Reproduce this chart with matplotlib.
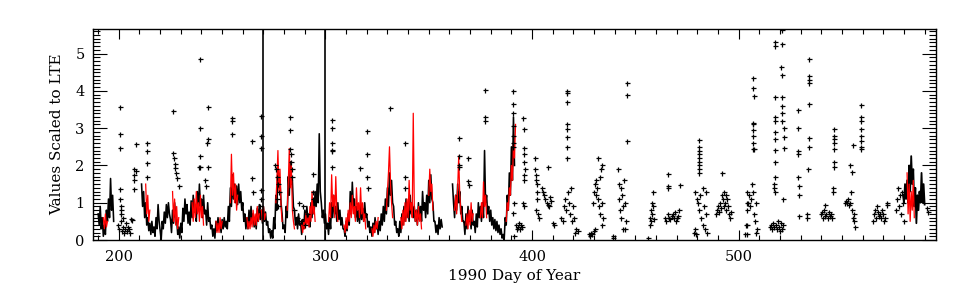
import numpy as np
import matplotlib
matplotlib.use("Agg")
import matplotlib.pyplot as plt
from matplotlib.ticker import MultipleLocator

# ---------------- data ----------------
# black line, half-day sampling starting at day 190 (NaN = gap)
line_start = 190.0
line_vals = [
    0.7, 0.4, 0.9, 0.3, 0.6, 0.1, 0.4, 0.15, 0.8, 0.5,          # 190-194
    1.1, 0.6, 1.65, 0.8, 1.2, 0.5,                               # 195-197
    np.nan, np.nan, np.nan, np.nan, np.nan, np.nan, np.nan, np.nan, np.nan, np.nan,
    np.nan, np.nan, np.nan, np.nan, np.nan, np.nan, np.nan, np.nan, np.nan, np.nan,
    np.nan, np.nan, np.nan, np.nan, np.nan, np.nan,              # 198-210.5
    1.5, 0.9, 1.3, 0.6, 1.0, 0.4, 0.6, 0.25, 0.45, 0.15,         # 211-215
    0.5, 0.2, 0.35, 0.1, 0.6, 0.3, 0.95, 0.5, 0.25, 0.0,         # 216-220
    0.5, 0.3, 0.75, 0.45, 0.95, 0.6, 1.0, 0.7, 0.55, 0.2,        # 221-225
    0.8, 0.45, 1.0, 0.6, 0.55, 0.15, 0.35, 0.05, 0.45, 0.2,      # 226-230
    0.85, 0.5, 1.1, 0.7, 0.95, 0.45, 0.75, 0.4, 1.05, 0.6,       # 231-235
    1.2, 0.75, 0.9, 0.5, 1.3, 0.8, 1.5, 0.9, 1.1, 0.6,           # 236-240
    1.2, 0.7, 0.8, 0.4, 1.0, 0.5, 0.6, 0.3, 0.4, 0.1,            # 241-245
    0.3, 0.05, 0.5, 0.25, 0.6, 0.35, 0.45, 0.2, 0.55, 0.3,       # 246-250
    0.6, 0.35, 0.5, 0.3, 0.9, 0.5, 1.4, 0.9, 1.75, 1.1,          # 251-255
    1.5, 1.0, 1.45, 0.95, 1.5, 1.0, 1.3, 0.8, 1.0, 0.5,          # 256-260
    0.7, 0.3, 0.6, 0.3, 0.8, 0.45, 0.9, 0.5, 0.7, 0.35,          # 261-265
    0.6, 0.3, 0.85, 0.5, 0.95, 0.55, 0.8, 0.45, 0.9, 0.5,        # 266-270
    0.75, 0.4, 0.5, 0.2, 0.3, 0.05, 0.25, 0.05, 0.6, 0.3,        # 271-275
    1.2, 0.8, 2.0, 1.4, 1.6, 1.0, 0.7, 0.3, 0.4, 0.2,            # 276-280
    0.9, 0.6, 1.7, 1.2, 2.1, 1.5, 1.6, 0.9, 0.8, 0.4,            # 281-285
    0.6, 0.3, 0.7, 0.4, 0.45, 0.15, 0.55, 0.3, 0.8, 0.45,        # 286-290
    0.9, 0.5, 0.7, 0.35, 1.0, 0.6, 1.1, 0.7, 1.3, 0.9,           # 291-295
    1.5, 1.0, 2.85, 1.3, 1.0, 0.6, 0.8, 0.45, 0.7, 0.3,          # 296-300
    0.45, 0.15, 0.6, 0.3, 1.0, 0.6, 1.2, 0.7, 0.9, 0.5,          # 301-305
    1.0, 0.55, 0.8, 0.4, 0.6, 0.3, 0.3, 0.1, 0.5, 0.25,          # 306-310
    0.7, 0.4, 1.3, 0.7, 1.55, 0.9, 1.1, 0.6, 0.9, 0.5,           # 311-315
    0.8, 0.45, 1.0, 0.55, 0.85, 0.5, 1.0, 0.6, 0.7, 0.35,        # 316-320
    0.5, 0.2, 0.35, 0.1, 0.45, 0.2, 0.6, 0.3, 0.4, 0.15,         # 321-325
    0.5, 0.25, 0.7, 0.4, 0.9, 0.5, 1.1, 0.7, 1.4, 0.9,           # 326-330
    1.8, 1.2, 1.6, 1.0, 0.9, 0.4, 0.5, 0.2, 0.3, 0.1,            # 331-335
    0.5, 0.2, 0.7, 0.4, 0.9, 0.5, 1.1, 0.6, 0.9, 0.5,            # 336-340
    1.2, 0.7, 1.0, 0.6, 0.9, 0.5, 0.8, 0.4, 1.0, 0.55,           # 341-345
    0.9, 0.5, 1.3, 0.8, 1.0, 0.6, 1.2, 0.7, 1.6, 1.0,            # 346-350
    1.75, 1.1, 1.0, 0.5, 0.5, 0.2, 0.4, 0.15, 0.6, 0.3,          # 351-355
    0.55, 0.35, np.nan, np.nan, np.nan, np.nan, np.nan, np.nan, np.nan, np.nan,
    np.nan, 1.5,                                                 # 356-361
    1.0, 0.6, 1.2, 0.8, 1.5, 1.0, 1.3, 0.7, 0.9, 0.5,            # 362-366
    0.5, 0.15, 0.7, 0.3, 0.9, 0.5, 0.6, 0.3, 0.8, 0.4,           # 367-371
    0.5, 0.2, 0.7, 0.35, 1.0, 0.6, 0.9, 0.5, 1.0, 0.6,           # 372-376
    2.4, 1.0, 1.2, 0.7, 0.9, 0.5, 0.8, 0.4, 0.6, 0.3,            # 377-381
    0.55, 0.25, 0.5, 0.2, 0.4, 0.15, 0.3, 0.05, 0.15, 0.0,       # 382-386
    0.6, 0.4, 1.2, 0.8, 1.8, 1.2, 2.5, 1.6, 3.3, 2.0,            # 387-391
]
# black line at the end of the record, half-day sampling from day 579.5
end_start = 579.5
end_vals = [1.2, 1.0, 1.5, 1.1, 1.6, 1.0, 2.0, 1.3, 2.25, 1.5,
            1.9, 0.9, 1.4, 0.45, 1.2, 0.8, 1.3, 1.0, 1.8, 1.0,
            1.5, 0.95]

# red line segments (start day, half-day samples)
red_starts = [192.5, 213.0, 226.0, 235.5, 247.0, 254.0, 262.0, 269.0, 276.0,
              281.5, 288.5, 301.5, 309.0, 322.5, 329.5, 336.5, 350.0, 362.5,
              368.0, 375.0, 387.5, 581.5]
red_segs = [
    [0.6, 0.3, 0.7, 0.35, 0.5],
    [1.5, 0.7, 1.2, 0.5, 0.8],
    [1.3, 0.5, 1.1, 0.4, 0.9, 0.3, 0.6],
    [1.0, 0.5, 1.1, 0.6, 1.3, 0.7, 1.0, 0.5, 1.2, 0.6, 0.9, 0.4],
    [0.5, 0.2, 0.45, 0.2, 0.6, 0.3, 0.5],
    [1.0, 2.3, 1.2, 1.8, 1.0, 1.5, 0.8, 1.2],
    [0.6, 0.3, 0.5, 0.3, 0.6, 0.35, 0.8, 0.4, 0.7, 0.4, 0.9, 0.5, 0.7],
    [0.8, 0.5, 0.9, 0.55, 0.7],
    [1.0, 1.6, 2.4, 1.3, 1.9, 0.9, 0.5],
    [0.8, 1.5, 2.45, 1.4, 2.0, 0.8, 0.5, 0.3],
    [0.4, 0.2, 0.5, 0.3, 0.7, 0.4, 0.6, 0.35, 0.9, 0.5, 1.3, 0.7, 0.9, 0.5],
    [0.5, 1.0, 0.6, 1.75, 0.9, 1.2, 0.6, 1.7, 0.8, 0.5],
    [0.4, 0.2, 0.6, 0.3, 0.8, 0.5, 1.0, 0.6, 1.2, 0.7, 0.9, 0.5, 1.4, 0.8,
     1.0, 0.6, 1.4, 0.7, 1.0, 0.5, 0.7, 0.3],
    [0.3, 0.1, 0.4, 0.2, 0.5, 0.3, 0.6],
    [0.8, 1.3, 1.8, 2.5, 1.5, 1.0, 0.6],
    [0.6, 0.3, 0.8, 0.4, 1.0, 0.5, 1.1, 0.6, 1.6, 0.8, 1.0, 0.6, 3.4, 0.9,
     0.5, 0.8, 0.4, 0.9, 0.5, 0.7, 0.3],
    [1.2, 1.9, 1.3, 1.5, 0.8],
    [0.8, 1.2, 0.7, 1.4, 2.25, 1.2, 0.8, 0.5],
    [0.4, 0.7, 0.3, 0.8, 0.4, 1.0, 0.5, 0.7],
    [0.6, 1.0, 0.6, 1.56, 0.9, 1.2, 0.6],
    [0.5, 1.0, 0.8, 1.4, 1.2, 2.0, 1.6, 2.6, 2.2, 3.1],
    [1.8, 0.7, 1.5, 0.5, 1.3, 0.8, 1.6, 0.6],
]

# individual measurements (plus symbols)
pt_days = [
    200.6, 200.6, 200.6, 200.6, 200.8, 201.0, 201.2,
    199.5, 200.0, 201.0, 201.5, 202.0, 202.5, 203.0, 203.5, 204.0, 204.5, 205.0, 205.5, 206.0, 201.0, 202.0,
    206.6, 207.2, 207.2, 207.2, 207.2, 208.2, 208.2,
    213.8, 213.8, 213.8, 213.8,
    226.4, 226.4, 226.8, 227.0, 227.2, 227.6, 228.3, 229.0,
    239.3, 239.3, 239.3, 239.0, 239.5,
    243.0, 243.0, 242.8, 243.3, 241.8, 242.2,
    254.6, 254.6, 254.6,
    264.6, 264.6, 264.8,
    268.6, 268.6, 268.6, 268.8, 269.0, 268.4,
    275.8, 276.2, 276.6, 277.0, 277.3, 276.4, 277.0,
    283.0, 283.0, 283.0, 283.2, 283.4, 283.6, 283.8,
    285.0, 286.0, 287.0, 288.0, 289.0, 290.0, 291.0,
    293.8, 293.8, 294.0,
    303.2, 303.2, 303.2, 303.2, 303.4, 303.2,
    316.6, 320.0, 320.0, 320.2, 320.4,
    331.4, 338.3, 338.3, 338.5,
    364.4, 364.4, 364.4, 364.6,
    369.2, 369.2, 369.4,
    377.3, 377.3, 377.3,
    391.0, 390.8, 390.8, 390.8, 390.8, 390.8, 390.8, 391.2, 391.0, 391.2,
    392.0, 392.5, 393.0, 393.5, 394.0, 394.5, 395.0,
    395.8, 396.0, 396.0, 396.2, 396.2, 396.4, 396.0, 396.2, 395.6, 396.0,
    401.4, 401.6, 401.8, 402.0, 402.2, 402.4, 402.6, 402.0, 402.8, 403.2,
    407.7, 405.0, 405.5, 406.0, 406.5, 407.0, 407.5, 408.0, 408.5, 409.0, 410.0, 410.5,
    417.0, 417.0, 416.8, 417.0, 417.0, 417.0, 416.8, 416.8,
    414.0, 415.0, 415.5, 416.0, 416.5, 417.5, 418.0, 418.5, 419.0, 419.5, 420.0, 420.5,
    421.0, 421.5, 422.0,
    427.5, 428.0, 428.5, 429.0, 430.0, 430.5, 429.5, 430.0, 430.5, 431.0, 431.0, 431.5,
    432.0, 432.0, 432.5, 433.0, 433.0, 433.5, 434.0, 434.0, 434.5, 434.0,
    439.0, 439.3,
    441.5, 442.0, 442.0, 442.5, 443.0, 443.0, 443.5, 444.0, 444.0, 444.5, 445.0, 445.0, 445.5,
    446.0, 446.0, 446.0,
    456.0, 457.0, 457.0, 457.5, 457.5, 458.0, 458.0, 458.5, 458.5, 459.0,
    465.7, 465.7, 465.9,
    464.5, 465.0, 466.0, 466.5, 467.0, 467.5, 468.0, 468.5, 469.0, 469.5, 470.0, 470.5, 471.0,
    471.5,
    480.7, 480.7, 480.7, 480.7, 480.7, 480.7, 480.7, 480.7, 480.7,
    478.5, 479.0, 479.5, 479.0, 480.0, 480.5, 481.0, 481.5, 482.0, 482.5, 482.5, 483.0, 483.5, 484.0, 484.5, 484.0,
    489.0, 489.5, 490.0, 490.5, 491.0, 491.5, 492.0, 492.0, 492.5, 493.0, 493.0, 493.5, 494.0, 494.0, 494.5, 495.0, 495.5, 496.0, 496.5,
    504.0, 504.0, 504.0, 504.0,
    506.8, 506.8, 507.5, 506.8, 507.0, 506.8, 506.8, 506.8, 506.8, 507.4,
    503.0, 503.5, 504.0, 504.5, 505.0, 505.5, 506.0, 506.5, 507.0, 507.5, 508.0, 508.5, 508.5, 509.0,
    515.0, 515.5, 516.0, 516.5, 517.0, 518.0, 518.5, 519.0, 519.5, 520.0, 520.5, 521.0, 521.5,
    517.4, 517.6, 517.4, 517.4, 517.6, 517.4, 517.4, 517.8, 517.6, 517.4, 517.2, 517.0, 517.6,
    521.0, 521.0, 520.6, 521.2, 520.8, 520.8, 521.0, 521.0, 522.0, 522.0, 522.0, 521.6,
    528.5, 528.5, 528.7, 528.7, 528.7, 529.0, 529.0, 529.0,
    533.8, 533.8, 533.8, 533.8, 533.8, 534.0, 534.0, 533.6, 533.2, 533.0,
    540.0, 540.5, 541.0, 541.5, 542.0, 542.0, 542.5, 543.0, 543.5, 544.0, 544.5, 545.0,
    546.0, 546.0, 546.0, 546.0, 546.2, 546.0, 546.0, 545.8, 545.8,
    551.5, 552.0, 552.5, 553.0, 553.5, 554.0, 554.5, 554.0, 555.0, 555.0, 555.5, 556.0, 556.5, 556.0, 555.4,
    559.4, 559.4, 559.4, 559.4, 559.2, 559.2, 559.2, 559.0,
    565.0, 565.5, 566.0, 566.5, 567.0, 567.5, 568.0, 568.5, 569.0, 569.5, 570.0, 570.5, 571.0,
    572.0, 572.0,
    576.0, 576.5, 577.0, 577.5, 578.0, 578.5, 579.0, 579.5, 580.0,
    591.0, 591.5,
]
pt_vals = [
    3.56, 2.84, 2.47, 1.37, 1.1, 0.9, 0.7,
    0.4, 0.3, 0.5, 0.25, 0.35, 0.2, 0.3, 0.45, 0.25, 0.35, 0.3, 0.2, 0.55, 0.8, 0.6,
    0.53, 1.6, 1.75, 1.9, 1.37, 2.57, 1.85,
    2.6, 2.38, 2.06, 1.7,
    3.47, 2.33, 2.2, 2.05, 1.92, 1.8, 1.65, 1.45,
    4.86, 3.0, 2.24, 1.97, 1.95,
    3.56, 2.7, 2.6, 1.95, 1.6, 1.45,
    3.28, 3.2, 2.84,
    2.65, 1.66, 1.3,
    3.33, 2.79, 2.46, 1.34, 1.1, 0.9,
    2.0, 1.9, 1.7, 1.5, 1.3, 1.1, 0.9,
    3.29, 2.94, 2.44, 2.3, 2.1, 1.9, 1.7,
    0.8, 0.6, 1.0, 0.5, 0.9, 0.4, 0.7,
    1.78, 1.3, 1.1,
    3.22, 3.0, 2.6, 2.42, 2.38, 1.97,
    1.92, 2.92, 2.3, 1.7, 1.4,
    3.53, 2.6, 1.69, 1.4,
    2.74, 2.24, 2.0, 1.97,
    2.19, 1.58, 1.47,
    4.03, 3.3, 3.2,
    3.99, 3.66, 3.4, 3.06, 2.8, 2.6, 2.5, 1.0, 0.73, 0.1,
    0.4, 0.3, 0.35, 0.45, 0.3, 0.4, 0.35,
    3.28, 2.98, 2.48, 2.3, 2.1, 1.9, 1.75, 1.6, 1.0, 0.9,
    2.19, 1.9, 1.75, 1.6, 1.5, 1.3, 1.1, 0.8, 0.7, 0.6,
    1.95, 1.4, 1.3, 1.2, 1.1, 1.0, 0.95, 0.9, 1.15, 1.05, 0.45, 0.4,
    4.0, 3.95, 3.7, 3.1, 2.98, 2.77, 2.5, 2.2,
    0.6, 0.5, 0.9, 1.1, 0.8, 1.3, 1.0, 0.7, 1.4, 0.5, 0.9, 0.6,
    0.2, 0.3, 0.25,
    0.15, 0.1, 0.2, 0.15, 0.25, 0.3, 1.0, 1.3, 1.5, 1.2, 1.6, 1.4,
    2.2, 1.1, 0.9, 1.7, 0.7, 1.9, 2.0, 1.0, 0.6, 0.4,
    0.05, 0.1,
    1.9, 1.5, 1.1, 0.8, 1.4, 0.6, 1.2, 0.9, 0.3, 1.6, 1.0, 0.3, 0.5,
    4.2, 3.9, 2.65,
    0.05, 0.4, 0.6, 0.8, 0.5, 1.0, 0.7, 1.3, 0.9, 0.55,
    1.78, 1.45, 1.4,
    0.6, 0.5, 0.7, 0.6, 0.55, 0.65, 0.7, 0.6, 0.75, 0.5, 0.6, 0.65, 0.8,
    1.47,
    2.68, 2.5, 2.4, 2.3, 2.2, 2.1, 2.0, 1.9, 1.8,
    0.2, 0.3, 0.15, 1.3, 1.1, 1.0, 0.8, 1.2, 0.6, 1.4, 0.4, 0.9, 0.3, 0.7, 0.2, 1.3,
    0.7, 0.8, 0.9, 0.75, 1.0, 0.85, 1.8, 1.2, 1.1, 1.3, 0.9, 1.0, 1.2, 0.8, 1.1, 0.9, 0.7, 0.6, 0.75,
    1.3, 1.0, 0.4, 0.15,
    4.34, 4.07, 3.85, 3.15, 3.1, 2.96, 2.8, 2.6, 2.45, 2.45,
    0.15, 0.4, 0.8, 1.0, 1.2, 0.9, 1.1, 1.5, 1.3, 0.7, 0.5, 0.2, 1.0, 0.3,
    0.35, 0.4, 0.3, 0.45, 0.35, 0.4, 0.3, 0.5, 0.35, 0.25, 0.45, 0.3, 0.4,
    5.2, 5.3, 3.83, 3.3, 3.2, 2.9, 2.7, 2.42, 2.1, 1.7, 1.5, 1.4, 1.3,
    5.25, 5.62, 4.65, 4.43, 3.83, 3.6, 3.4, 3.2, 3.0, 2.75, 2.46, 1.1,
    3.5, 3.0, 2.4, 2.3, 1.7, 1.44, 1.2, 0.65,
    4.86, 4.4, 4.3, 4.2, 3.66, 2.74, 2.5, 1.9, 0.7, 0.6,
    0.7, 0.75, 0.6, 0.8, 0.95, 0.65, 0.7, 0.6, 0.75, 0.65, 0.7, 0.6,
    2.98, 2.8, 2.7, 2.6, 2.45, 2.1, 1.97, 1.4, 1.3,
    1.0, 1.05, 1.0, 1.1, 0.95, 1.0, 1.28, 2.0, 1.83, 0.8, 0.6, 0.5, 0.35, 0.7, 2.56,
    3.63, 3.3, 3.2, 2.98, 2.8, 2.65, 2.5, 2.45,
    0.5, 0.7, 0.8, 0.6, 0.9, 0.75, 0.65, 0.7, 0.6, 0.8, 0.7, 0.5, 0.6,
    1.0, 0.95,
    0.8, 1.1, 1.4, 0.9, 1.2, 0.7, 1.3, 1.0, 0.5,
    0.85, 0.75,
]

vlines_at = [270, 300]
x_ticks = [200, 300, 400, 500]
y_ticks = [0, 1, 2, 3, 4, 5]

# ---------------- figure ----------------
plt.rcParams['font.family'] = ['DejaVu Serif']
fig = plt.figure(figsize=(9.67, 3.0), dpi=100)
ax = fig.add_axes([93 / 967, 1 - 240 / 300, (936 - 93) / 967, (240 - 29) / 300])

line_days = line_start + 0.5 * np.arange(len(line_vals))
ax.plot(line_days, line_vals, color='black', lw=1.15, zorder=2)
end_days = end_start + 0.5 * np.arange(len(end_vals))
ax.plot(end_days, end_vals, color='black', lw=1.3, zorder=2)

for s, seg in zip(red_starts, red_segs):
    d = s + 0.5 * np.arange(len(seg))
    ax.plot(d, seg, color='red', lw=0.9, zorder=3)

ax.plot(pt_days, pt_vals, linestyle='none', marker='+', color='black',
        markersize=3.6, markeredgewidth=0.9, zorder=4)

for v in vlines_at:
    ax.axvline(v, color='black', lw=1.2, zorder=5)

ax.set_xlim(187.5, 595.5)
ax.set_ylim(0, 5.66)
ax.set_xticks(x_ticks)
ax.set_yticks(y_ticks)
ax.xaxis.set_minor_locator(MultipleLocator(10))
ax.yaxis.set_minor_locator(MultipleLocator(0.1))
ax.tick_params(which='both', direction='in', top=True, right=True,
               labelsize=10.5, width=0.8)
ax.tick_params(axis='x', which='major', length=7, pad=7)
ax.tick_params(axis='x', which='minor', length=3.5)
ax.tick_params(axis='y', which='major', length=10, pad=6)
ax.tick_params(axis='y', which='minor', length=5)
for sp in ax.spines.values():
    sp.set_linewidth(1.0)

ax.set_xlabel('1990 Day of Year', fontsize=11, labelpad=4)
ax.set_ylabel('Values Scaled to LTE', fontsize=11, labelpad=8)

fig.savefig('out.png', dpi=100)
